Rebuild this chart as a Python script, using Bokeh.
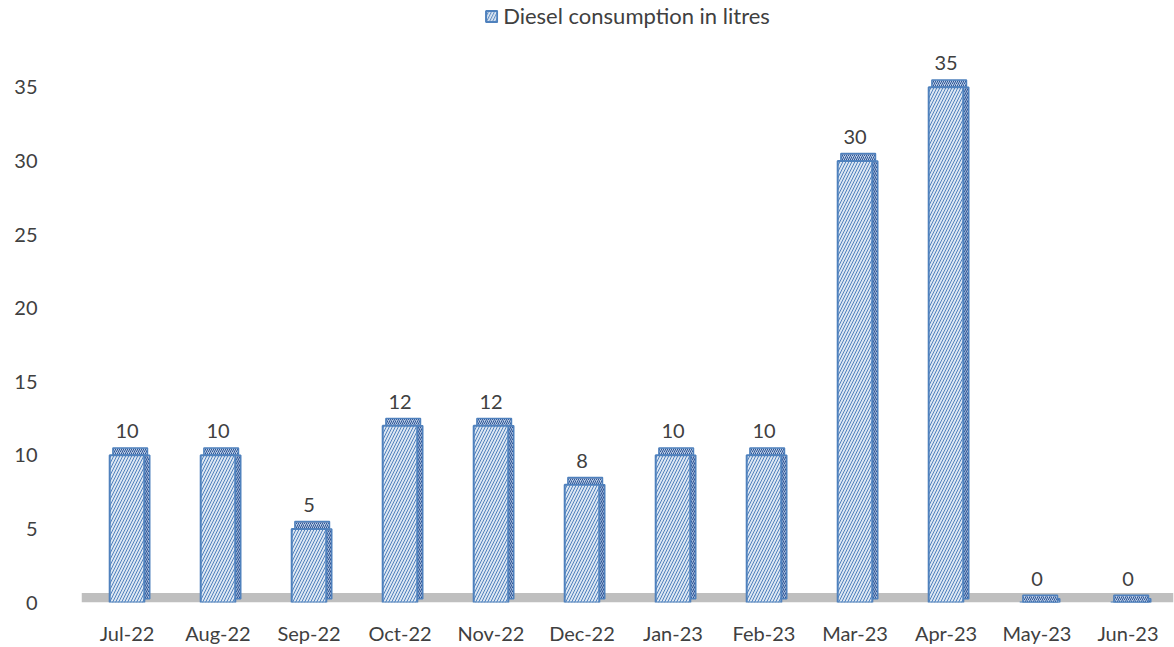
from bokeh.plotting import figure
from bokeh.models import ColumnDataSource, FactorRange, Range1d, BoxAnnotation, Legend, LegendItem
from bokeh.transform import dodge
from bokeh.core.properties import value
from bokeh.embed import file_html
from bokeh.resources import INLINE

months = ["Jul-22", "Aug-22", "Sep-22", "Oct-22", "Nov-22", "Dec-22",
          "Jan-23", "Feb-23", "Mar-23", "Apr-23", "May-23", "Jun-23"]
diesel = [10, 10, 5, 12, 12, 8, 10, 10, 30, 35, 0, 0]
y_ticks = [0, 5, 10, 15, 20, 25, 30, 35]
series_name = "Diesel consumption in litres"

src = ColumnDataSource(dict(
    m=months, v=diesel,
    vt=[d + 0.5 for d in diesel],
    lbl=[str(d) for d in diesel],
))

FONT = "Lato"
TXT = "#404040"
BLUE = "#4f81bd"
FILL = "#dce6f2"

p = figure(x_range=FactorRange(*months, range_padding=0), y_range=Range1d(0, 40.9),
           width=1174, height=647, output_backend="svg", toolbar_location=None,
           min_border_left=81, min_border_right=1, min_border_top=0, min_border_bottom=26)
p.outline_line_color = None
p.background_fill_color = "white"
p.border_fill_color = "white"
p.xgrid.visible = False
p.ygrid.visible = False

# floor
p.add_layout(BoxAnnotation(bottom=0, top=0.65, fill_color="#bfbfbf", fill_alpha=1.0,
                           line_color=None, level="underlay"))

# side face
p.vbar(x=dodge("m", 0.215, range=p.x_range), top="v", bottom=0.25, width=0.07, source=src,
       fill_color="#9fb6d6", line_color=BLUE, line_width=1.5,
       hatch_pattern="/", hatch_color="#2f5597", hatch_scale=4, hatch_weight=1)
# top face
p.vbar(x=dodge("m", 0.035, range=p.x_range), top="vt", bottom="v", width=0.38, source=src,
       fill_color="#b8cce4", line_color=BLUE, line_width=1.5,
       hatch_pattern="/", hatch_color="#2f5597", hatch_scale=4, hatch_weight=1)
# front face
bars = p.vbar(x="m", top="v", bottom=0, width=0.38, source=src,
              fill_color=FILL, line_color=BLUE, line_width=2,
              hatch_pattern="/", hatch_color=BLUE, hatch_scale=6, hatch_weight=1)

p.text(x="m", y="v", text="lbl", source=src, y_offset=-17,
       text_align="center", text_baseline="bottom",
       text_font=value(FONT), text_font_size="20px", text_color=TXT)

legend = Legend(items=[LegendItem(label=series_name, renderers=[bars])],
                location="top_center", orientation="horizontal",
                label_text_font=FONT, label_text_font_size="22px", label_text_color=TXT,
                glyph_width=14, glyph_height=14, border_line_color=None,
                background_fill_alpha=0, margin=2, padding=4, label_standoff=5)
p.add_layout(legend)

p.yaxis.ticker = y_ticks
p.yaxis.axis_line_color = None
p.yaxis.major_tick_line_color = None
p.yaxis.minor_tick_line_color = None
p.yaxis.major_label_standoff = 38
p.yaxis.major_label_text_font = FONT
p.yaxis.major_label_text_font_size = "20px"
p.yaxis.major_label_text_color = TXT

p.xaxis.axis_line_color = None
p.xaxis.major_tick_line_color = None
p.xaxis.minor_tick_line_color = None
p.xaxis.major_label_standoff = 12
p.xaxis.major_label_text_font = FONT
p.xaxis.major_label_text_font_size = "20px"
p.xaxis.major_label_text_color = TXT

open("out.html", "w").write(file_html(p, INLINE))
